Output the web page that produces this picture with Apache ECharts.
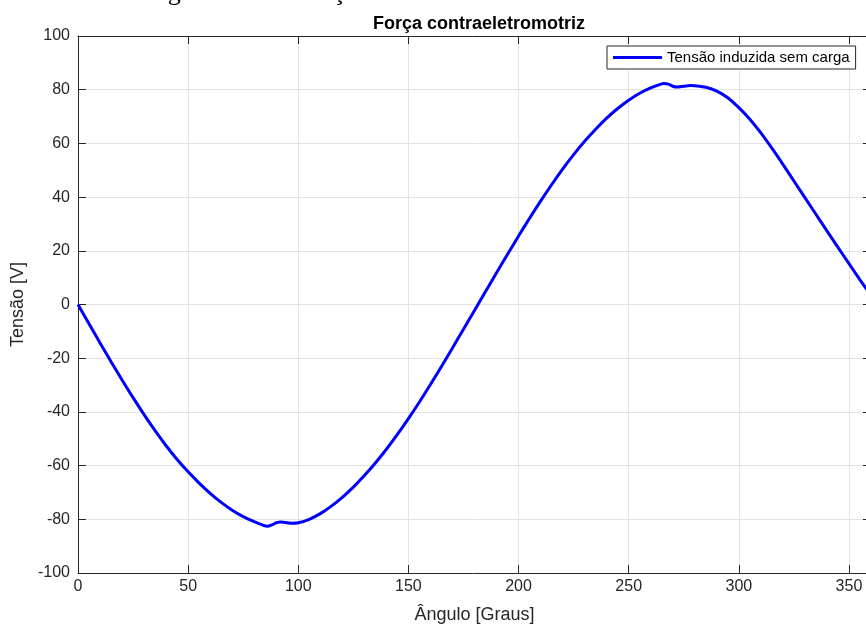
<!DOCTYPE html>
<html>
<head>
<meta charset="utf-8">
<script src="https://cdn.jsdelivr.net/npm/echarts@6/dist/echarts.min.js"></script>
<style>
  html, body { margin: 0; padding: 0; background: #fff; }
  #chart { width: 866px; height: 626px; }
</style>
</head>
<body>
<div id="chart"></div>
<script>
// angle (graus) and induced voltage (V)
const angulos = [0, 5, 10, 15, 20, 25, 30, 35, 40, 45, 50, 55, 60, 65, 70, 75, 80, 84, 86, 88,
  90, 92, 94, 97, 100, 105, 110, 115, 120, 125, 130, 135, 140, 145, 150, 155, 160, 165, 170, 175,
  180, 185, 190, 195, 200, 205, 210, 215, 220, 225, 230, 235, 240, 245, 250, 255, 260, 264, 266, 268,
  270, 272, 275, 278, 280, 285, 290, 295, 300, 305, 310, 315, 320, 325, 330, 335, 340, 345, 350, 355, 360];
const tensao = [0, -7.2, -14.3, -21.3, -28.1, -34.7, -41.0, -47.0, -52.6, -57.7, -62.3, -66.5, -70.3, -73.7, -76.6, -79.0, -80.9, -82.2, -82.6, -82.1,
  -81.3, -81.0, -81.2, -81.5, -81.3, -80.0, -77.9, -75.1, -71.8, -68.0, -63.7, -59.0, -53.9, -48.4, -42.5, -36.3, -29.8, -23.1, -16.2, -9.2,
  -2.2, 4.8, 11.8, 18.7, 25.5, 32.1, 38.5, 44.6, 50.4, 55.8, 60.8, 65.3, 69.4, 73.0, 76.1, 78.7, 80.7, 81.9, 82.3, 82.1,
  81.3, 81.0, 81.3, 81.6, 81.5, 80.9, 79.5, 77.0, 73.3, 69.0, 63.9, 58.2, 52.2, 46.0, 39.8, 33.6, 27.4, 21.3, 15.2, 9.2, 3.4];
const xTicks = { min: 0, max: 360, step: 50 };
const yTicks = { min: -100, max: 100, step: 20 };

const ink = '#262626';
const gridColor = '#e3e3e3';
const font = 'Arial, "Liberation Sans", Helvetica, sans-serif';

const chart = echarts.init(document.getElementById('chart'));

const baseX = {
  type: 'value', min: xTicks.min, max: xTicks.max, interval: xTicks.step,
  axisLine: { show: true, onZero: false, lineStyle: { color: ink, width: 1 } },
  axisTick: { show: true, inside: true, length: 8, lineStyle: { color: ink } },
  splitLine: { show: false }
};
const baseY = {
  type: 'value', min: yTicks.min, max: yTicks.max, interval: yTicks.step,
  axisLine: { show: true, onZero: false, lineStyle: { color: ink, width: 1 } },
  axisTick: { show: true, inside: true, length: 8, lineStyle: { color: ink } },
  splitLine: { show: false }
};

chart.setOption({
  animation: false,
  backgroundColor: '#fff',
  title: {
    text: 'Força contraeletromotriz',
    left: 474, top: 10, textAlign: 'center',
    textStyle: { fontFamily: font, fontSize: 18, fontWeight: 'bold', color: '#000' }
  },
  // caption of the page above the figure, only its lower edge shows
  graphic: [{
    type: 'text', left: 146, top: -20,
    style: { text: 'Figura 9 – Simulação', fontFamily: '"Liberation Serif", "Times New Roman", serif', fontSize: 26, fill: '#000' }
  }],
  legend: {
    left: 607, top: 46,
    padding: [4, 6, 4, 6],
    borderColor: ink, borderWidth: 1, backgroundColor: '#fff', borderRadius: 0,
    itemWidth: 49, itemHeight: 3, itemGap: 5,
    icon: 'rect',
    textStyle: { fontFamily: font, fontSize: 15, color: '#000' },
    data: ['Tensão induzida sem carga']
  },
  grid: { left: 78, right: -5, top: 36, bottom: 53, containLabel: false, outerBoundsMode: 'none' },
  xAxis: [
    Object.assign({}, baseX, {
      position: 'bottom',
      name: 'Ângulo [Graus]', nameLocation: 'middle', nameGap: 33,
      nameTextStyle: { fontFamily: font, fontSize: 18, color: ink },
      axisLabel: { show: true, margin: 6, showMaxLabel: false, fontFamily: font, fontSize: 16, color: ink },
      splitLine: { show: true, lineStyle: { color: gridColor, width: 1 } }
    }),
    Object.assign({}, baseX, { position: 'top', axisLabel: { show: false } })
  ],
  yAxis: [
    Object.assign({}, baseY, {
      position: 'left',
      name: 'Tensão [V]', nameLocation: 'middle', nameGap: 44,
      nameTextStyle: { fontFamily: font, fontSize: 18, color: ink },
      axisLabel: { show: true, margin: 8, fontFamily: font, fontSize: 16, color: ink },
      splitLine: { show: true, lineStyle: { color: gridColor, width: 1 } }
    }),
    Object.assign({}, baseY, { position: 'right', axisLabel: { show: false } })
  ],
  series: [{
    name: 'Tensão induzida sem carga',
    type: 'line',
    xAxisIndex: 0, yAxisIndex: 0,
    data: angulos.map((a, i) => [a, tensao[i]]),
    showSymbol: false,
    smooth: 0.3,
    lineStyle: { color: '#0000ff', width: 3 },
    itemStyle: { color: '#0000ff' }
  }]
});
</script>
</body>
</html>
